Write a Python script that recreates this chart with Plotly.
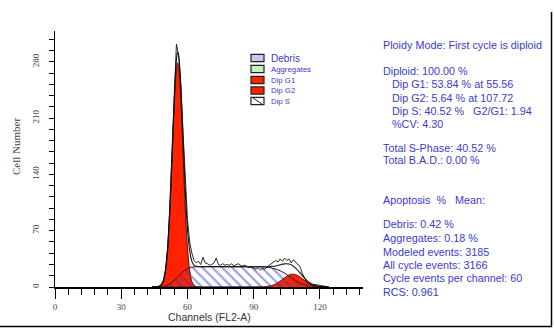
import numpy as np
import plotly.graph_objects as go

# ---- fitted model components (channel grid shared by all three) ----
model_ch = [44, 46, 47, 48, 49, 50, 51, 52, 53, 53.5, 54, 54.5, 55, 55.5, 56, 56.5,
            57, 57.5, 58, 59, 60, 61, 62, 63, 64, 66, 70, 75, 80, 85, 90, 94,
            96, 98, 100, 102, 104, 106, 107.7, 109, 111, 113, 115, 117, 119, 121, 124]
g1_fit = [0, 0.1, 0.5, 2, 6, 19, 45, 92, 157, 192, 226, 253, 272, 279, 274, 258,
          233, 200, 166, 99, 50, 21, 7, 2, 0.6, 0, 0, 0, 0, 0, 0, 0,
          0, 0, 0, 0, 0, 0, 0, 0, 0, 0, 0, 0, 0, 0, 0]
s_fit = [0, 0, 0.1, 0.3, 0.7, 1.4, 2.5, 4, 6, 7.2, 8.5, 9.8, 11.2, 12.5, 13.8, 15.2,
         16.5, 17.8, 19, 21.2, 23, 24.2, 24.8, 25, 25.1, 25.2, 25.3, 25.3, 25.2, 25.2, 25.1, 25,
         24.6, 23.8, 22.3, 20.2, 17.2, 13.6, 10.4, 8, 5, 2.8, 1.3, 0.5, 0.2, 0, 0]
g2_fit = [0, 0, 0, 0, 0, 0, 0, 0, 0, 0, 0, 0, 0, 0, 0, 0,
          0, 0, 0, 0, 0, 0, 0, 0, 0, 0, 0, 0, 0, 0, 0, 0.2,
          0.6, 1.8, 3.9, 7.5, 11.6, 14.9, 16, 15.4, 12.5, 8.3, 4.7, 2.1, 0.9, 0.2, 0]

# ---- measured histogram (FL2-A channels) ----
data_ch = list(range(44, 125))
data_counts = [0, 0, 0.5, 1, 3, 8, 20, 48, 100, 170, 245, 302, 288, 250, 192, 130,
               84, 56, 42, 33, 30, 32, 28, 37, 30, 29, 27, 28, 30, 36, 28, 27,
               29, 27, 28, 27, 29, 26, 28, 29, 27, 26, 27, 26, 24, 25, 23, 22,
               24, 21, 23, 22, 25, 27, 29, 30, 33, 31, 35, 32, 36, 33, 35, 30,
               34, 31, 28, 25, 17, 11, 6, 4, 3, 3.5, 3, 2.5, 2, 1.5, 1, 0.5, 0]

g1_mean = 55.56

x_ticks = list(range(0, 139, 6))
x_labels = ["0", "30", "60", "90", "120"]
y_ticks = list(range(0, 309, 14))
y_labels = ["0", "70", "140", "210", "280"]

legend_items = ["Debris", "Aggregates", "Dip G1", "Dip G2", "Dip S"]

stats_lines = [
    ("Ploidy Mode: First cycle is diploid", 0),
    ("Diploid: 100.00 %", 0),
    ("Dip G1: 53.84 % at 55.56", 1),
    ("Dip G2: 5.64 % at 107.72", 1),
    ("Dip S: 40.52 %   G2/G1: 1.94", 1),
    ("%CV: 4.30", 1),
    ("Total S-Phase: 40.52 %", 0),
    ("Total B.A.D.: 0.00 %", 0),
    ("Apoptosis  %   Mean:", 0),
    ("Debris: 0.42 %", 0),
    ("Aggregates: 0.18 %", 0),
    ("Modeled events: 3185", 0),
    ("All cycle events: 3166", 0),
    ("Cycle events per channel: 60", 0),
    ("RCS: 0.961", 0),
]
stats_y = [45, 71, 84, 97.5, 111, 124, 147.5, 160, 200, 224, 238, 251.5, 265, 278, 292]

W, H = 554, 329
L, R, T, B = 55, 363, 31, 287
RED = "#ff2200"
BLUE_TXT = "#3b3bc8"


def px(x):
    return (x - L) / (R - L)


def py(y):
    return (B - y) / (B - T)


g1 = np.array(g1_fit)
s = np.array(s_fit)
g2 = np.array(g2_fit)
model_sum = g1 + s + g2

fig = go.Figure()

fig.add_trace(go.Scatter(x=model_ch, y=g1, mode="lines", fill="tozeroy",
                         fillcolor=RED, line=dict(color="#200000", width=0.8, shape="spline"),
                         hoverinfo="skip"))
fig.add_trace(go.Scatter(x=model_ch, y=g2, mode="lines", fill="tozeroy",
                         fillcolor=RED, line=dict(color="#300000", width=0.8, shape="spline"),
                         hoverinfo="skip"))
fig.add_trace(go.Scatter(x=model_ch, y=s, mode="lines", fill="tozeroy",
                         fillcolor="rgba(0,0,0,0)",
                         fillpattern=dict(shape="\\", fgcolor="#1f3cbf", bgcolor="rgba(0,0,0,0)",
                                          size=7, solidity=0.28, fillmode="overlay"),
                         line=dict(color="#401818", width=1.0, shape="spline"),
                         hoverinfo="skip"))
fig.add_trace(go.Scatter(x=model_ch, y=model_sum, mode="lines",
                         line=dict(color="#111111", width=1.1, shape="spline"),
                         hoverinfo="skip"))
fig.add_trace(go.Scatter(x=data_ch, y=data_counts, mode="lines",
                         line=dict(color="#111111", width=0.9),
                         hoverinfo="skip"))
fig.add_trace(go.Scatter(x=[g1_mean], y=[-7.5], mode="markers", cliponaxis=False,
                         marker=dict(symbol="triangle-up", size=9, color="black"),
                         hoverinfo="skip"))

fig.update_xaxes(range=[0, 139.5], showgrid=False, zeroline=False,
                 showline=True, linecolor="black", linewidth=2,
                 ticks="outside", ticklen=10, tickwidth=1.2, tickcolor="black",
                 tickmode="array", tickvals=[0, 30, 60, 90, 120], ticktext=x_labels,
                 minor=dict(tickmode="array", tickvals=x_ticks, ticks="outside",
                            ticklen=6, tickwidth=1.2, tickcolor="black"),
                 ticklabelstandoff=0,
                 tickfont=dict(family="Liberation Serif", size=9, color="#444444"))
fig.update_yaxes(range=[0, 318.4], showgrid=False, zeroline=False,
                 showline=True, linecolor="black", linewidth=1.3,
                 ticks="outside", ticklen=5, tickwidth=1, tickcolor="black",
                 tickmode="array", tickvals=[0, 70, 140, 210, 280], ticktext=y_labels,
                 minor=dict(tickmode="array", tickvals=y_ticks, ticks="outside",
                            ticklen=5, tickwidth=1, tickcolor="black"),
                 tickangle=-90, ticklabelstandoff=6,
                 tickfont=dict(family="Liberation Serif", size=9, color="#444444"))

annotations = []
shapes = []

# axis titles
annotations.append(dict(text="Cell Number", x=px(16), y=py(147), xref="paper", yref="paper",
                        xanchor="center", yanchor="middle",
                        showarrow=False, textangle=-90,
                        font=dict(family="Liberation Serif", size=11, color="#444444")))
annotations.append(dict(text="Channels (FL2-A)", x=px(209), y=py(316.5), xref="paper", yref="paper",
                        xanchor="center", yanchor="middle",
                        showarrow=False,
                        font=dict(family="Liberation Sans", size=10.5, color="#333333")))

# legend
legend_y = [58, 69, 80, 90.5, 101]
legend_fill = ["#c8c8f0", "#c6efc6", RED, RED, "white"]
for name, yc, fc in zip(legend_items, legend_y, legend_fill):
    shapes.append(dict(type="rect", xref="paper", yref="paper",
                       x0=px(251), x1=px(264), y0=py(yc - 3.6), y1=py(yc + 3.6),
                       fillcolor=fc, line=dict(color="#222222", width=1.2)))
    if name == "Dip S":
        shapes.append(dict(type="line", xref="paper", yref="paper",
                           x0=px(253), x1=px(262), y0=py(yc - 3), y1=py(yc + 3),
                           line=dict(color="#222222", width=1)))
    annotations.append(dict(text=name, x=px(269), y=py(yc), xref="paper", yref="paper",
                            xanchor="left", yanchor="middle", showarrow=False,
                            font=dict(family="Liberation Sans",
                                      size=10 if name == "Debris" else 7.8,
                                      color=BLUE_TXT)))

# statistics panel
for (txt, indent), yc in zip(stats_lines, stats_y):
    annotations.append(dict(text=txt, x=px(381 + 9 * indent), y=py(yc),
                            xref="paper", yref="paper", xanchor="left", yanchor="middle",
                            showarrow=False,
                            font=dict(family="Liberation Sans", size=10.8, color=BLUE_TXT)))

# frame edges
shapes.append(dict(type="line", xref="paper", yref="paper",
                   x0=px(0), x1=px(552), y0=py(326.5), y1=py(326.5),
                   line=dict(color="black", width=1.5)))
shapes.append(dict(type="line", xref="paper", yref="paper",
                   x0=px(551.5), x1=px(551.5), y0=py(12), y1=py(326.5),
                   line=dict(color="black", width=1.5)))

fig.update_layout(width=W, height=H, margin=dict(l=L, r=W - R, t=T, b=H - B),
                  paper_bgcolor="white", plot_bgcolor="white", showlegend=False,
                  annotations=annotations, shapes=shapes)

fig.write_html("out.html")
